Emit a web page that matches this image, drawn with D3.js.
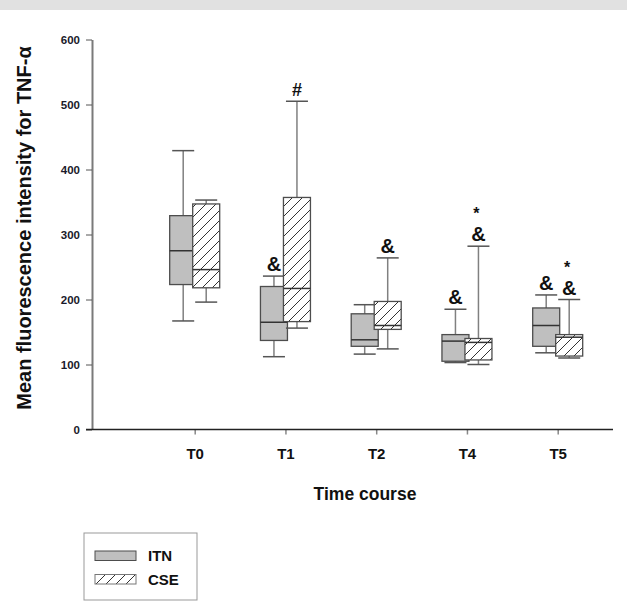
<!DOCTYPE html>
<html>
<head>
<meta charset="utf-8">
<script src="https://cdn.jsdelivr.net/npm/d3@7"></script>
<style>
  html, body { margin: 0; padding: 0; background: #fff; }
  svg { display: block; font-family: "Liberation Sans", Arial, sans-serif; }
</style>
</head>
<body>
<svg id="chart" width="627" height="603"></svg>
<script>
// box stats (TNF-alpha MFI by time point)
const groups = ["T0", "T1", "T2", "T4", "T5"];
const seriesNames = ["ITN", "CSE"];

const itnLow    = [167, 112, 116, 103, 118];
const itnQ1     = [223, 137, 128, 105, 128];
const itnMedian = [275, 165, 138, 136, 160];
const itnQ3     = [329, 220, 178, 146, 187];
const itnHigh   = [429, 236, 192, 185, 207];

const cseLow    = [196, 156, 124, 100, 110];
const cseQ1     = [218, 166, 154, 107, 113];
const cseMedian = [246, 217, 160, 134, 142];
const cseQ3     = [347, 357, 197, 140, 146];
const cseHigh   = [353, 505, 264, 282, 200];

const yTicks = [0, 100, 200, 300, 400, 500, 600];

// significance marks placed over the upper whisker
const marks = [
  { group: "T1", series: "ITN", text: "&" },
  { group: "T1", series: "CSE", text: "#" },
  { group: "T2", series: "CSE", text: "&" },
  { group: "T4", series: "ITN", text: "&" },
  { group: "T4", series: "CSE", text: "&", star: true },
  { group: "T5", series: "ITN", text: "&" },
  { group: "T5", series: "CSE", text: "&", star: true }
];

const stats = {
  ITN: groups.map((g, i) => ({ group: g, low: itnLow[i], q1: itnQ1[i], med: itnMedian[i], q3: itnQ3[i], high: itnHigh[i] })),
  CSE: groups.map((g, i) => ({ group: g, low: cseLow[i], q1: cseQ1[i], med: cseMedian[i], q3: cseQ3[i], high: cseHigh[i] }))
};

const svg = d3.select("#chart");

// grey strip along the top of the page
svg.append("rect").attr("x", 0).attr("y", 0).attr("width", 627).attr("height", 10).attr("fill", "#e1e1e1");

const y = d3.scaleLinear().domain([0, 600]).range([429.5, 39.5]);
const x = d3.scalePoint().domain(groups).range([194.7, 557.7]);
const offset = { ITN: -11.5, CSE: 11.5 };
const boxW = 27, capW = 22;

// hatch pattern for CSE
const defs = svg.append("defs");
defs.append("pattern")
  .attr("id", "hatch").attr("patternUnits", "userSpaceOnUse")
  .attr("width", 10).attr("height", 10)
  .append("path")
  .attr("d", "M-2,2 L2,-2 M0,10 L10,0 M8,12 L12,8")
  .attr("stroke", "#333").attr("stroke-width", 1);

const fills = { ITN: "#bfbfbf", CSE: "url(#hatch)" };
const bg = { ITN: null, CSE: "#fff" };

// axes
const yAxis = svg.append("g")
  .attr("transform", "translate(92,0)")
  .call(d3.axisLeft(y).tickValues(yTicks).tickSize(6).tickSizeOuter(0).tickPadding(6));
yAxis.select(".domain").attr("stroke", "#7a7a7a").attr("stroke-width", 2);
yAxis.selectAll(".tick line").attr("stroke", "#555");
yAxis.selectAll(".tick text")
  .attr("font-family", "Liberation Sans, Arial, sans-serif")
  .attr("font-size", 11.5).attr("font-weight", 700).attr("fill", "#1a1a2a");

const xAxis = svg.append("g")
  .attr("transform", "translate(0,429.5)")
  .call(d3.axisBottom(x).tickSize(5).tickSizeOuter(0).tickPadding(14));
xAxis.select(".domain").remove();
xAxis.selectAll(".tick line").attr("stroke", "#888").attr("stroke-width", 1.5);
xAxis.selectAll(".tick text")
  .attr("font-family", "Liberation Sans, Arial, sans-serif")
  .attr("font-size", 15).attr("font-weight", 700).attr("fill", "#111");
svg.append("line")
  .attr("x1", 86).attr("x2", 613).attr("y1", 429.5).attr("y2", 429.5)
  .attr("stroke", "#222").attr("stroke-width", 1.5);

// boxes
const plot = svg.append("g");
seriesNames.forEach(s => {
  const g = plot.append("g").attr("class", "series-" + s);
  stats[s].forEach(d => {
    const cx = x(d.group) + offset[s];
    // whiskers
    g.append("line")
      .attr("x1", cx).attr("x2", cx).attr("y1", y(d.q3)).attr("y2", y(d.high))
      .attr("stroke", "#808080").attr("stroke-width", 1.5);
    g.append("line")
      .attr("x1", cx).attr("x2", cx).attr("y1", y(d.q1)).attr("y2", y(d.low))
      .attr("stroke", "#808080").attr("stroke-width", 1.5);
    [d.low, d.high].forEach(v => {
      g.append("line")
        .attr("x1", cx - capW / 2).attr("x2", cx + capW / 2).attr("y1", y(v)).attr("y2", y(v))
        .attr("stroke", "#555").attr("stroke-width", 1.5);
    });
    if (bg[s]) {
      g.append("rect")
        .attr("x", cx - boxW / 2).attr("y", y(d.q3))
        .attr("width", boxW).attr("height", y(d.q1) - y(d.q3))
        .attr("fill", bg[s]);
    }
    g.append("rect")
      .attr("x", cx - boxW / 2).attr("y", y(d.q3))
      .attr("width", boxW).attr("height", y(d.q1) - y(d.q3))
      .attr("fill", fills[s]).attr("stroke", "#4d4d4d").attr("stroke-width", 1.3);
    g.append("line")
      .attr("x1", cx - boxW / 2).attr("x2", cx + boxW / 2).attr("y1", y(d.med)).attr("y2", y(d.med))
      .attr("stroke", "#333").attr("stroke-width", 1.5);
  });
});

// significance marks
marks.forEach(m => {
  const d = stats[m.series].find(e => e.group === m.group);
  const cx = x(m.group) + offset[m.series];
  const by = y(d.high) - 5;
  svg.append("text")
    .attr("x", cx).attr("y", by).attr("text-anchor", "middle")
    .attr("font-size", m.text === "#" ? 18 : 20).attr("font-weight", 700).attr("fill", "#111")
    .text(m.text);
  if (m.star) {
    svg.append("text")
      .attr("x", cx - 2).attr("y", by - 22).attr("text-anchor", "middle")
      .attr("font-size", 16).attr("font-weight", 700).attr("fill", "#111")
      .text("*");
  }
});

// axis titles
svg.append("text")
  .attr("transform", "translate(31,228) rotate(-90)")
  .attr("text-anchor", "middle")
  .attr("font-size", 20).attr("font-weight", 700).attr("fill", "#111")
  .text("Mean fluorescence intensity for TNF-\u03b1");

svg.append("text")
  .attr("x", 365).attr("y", 500).attr("text-anchor", "middle")
  .attr("font-size", 17.5).attr("font-weight", 700).attr("fill", "#111")
  .text("Time course");

// legend
const legend = svg.append("g");
legend.append("rect")
  .attr("x", 84).attr("y", 533).attr("width", 113).attr("height", 67)
  .attr("fill", "#fff").attr("stroke", "#999").attr("stroke-width", 1);
seriesNames.forEach((s, i) => {
  const ly = 551 + i * 23.5;
  legend.append("rect")
    .attr("x", 95).attr("y", ly).attr("width", 41).attr("height", 9.5)
    .attr("fill", i === 0 ? "#bfbfbf" : "url(#hatch)")
    .attr("stroke", i === 0 ? "#4d4d4d" : "#777").attr("stroke-width", 1);
  legend.append("text")
    .attr("x", 148).attr("y", ly + 10)
    .attr("font-size", 15).attr("font-weight", 700).attr("fill", "#111")
    .text(s);
});
</script>
</body>
</html>
